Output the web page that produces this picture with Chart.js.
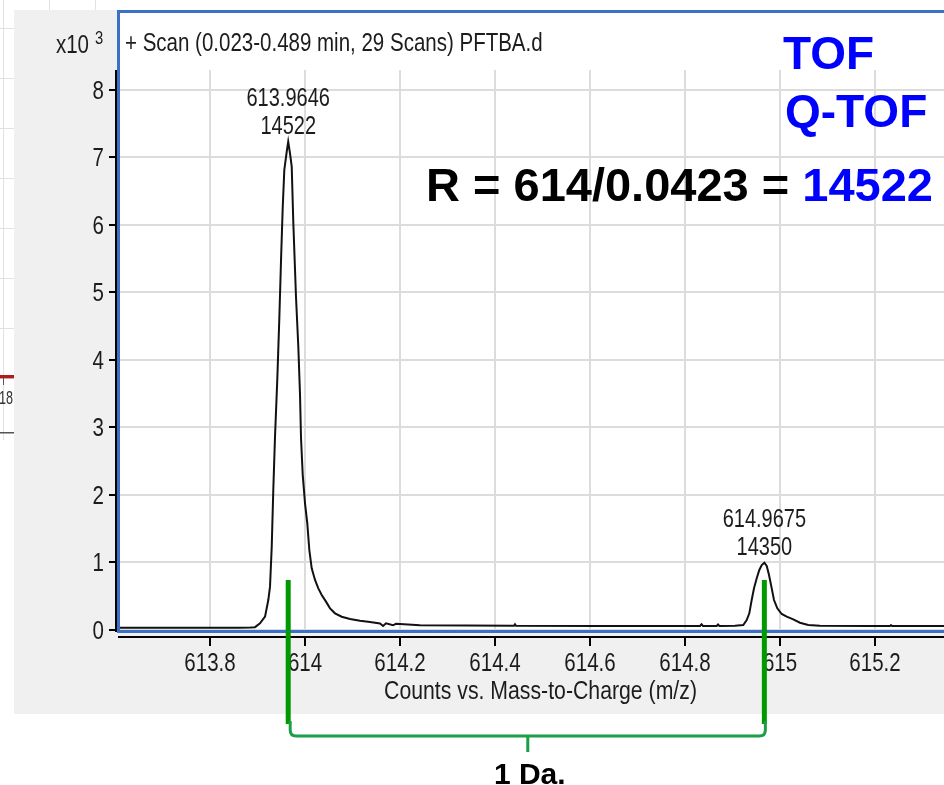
<!DOCTYPE html>
<html>
<head>
<meta charset="utf-8">
<title>PFTBA scan - TOF resolution</title>
<script src="https://cdn.jsdelivr.net/npm/chart.js@4.4.1/dist/chart.umd.min.js"></script>
<style>
  html, body { margin: 0; padding: 0; overflow: hidden; background: #fff; }
  canvas { display: block; }
</style>
</head>
<body>
<canvas id="spectrum" width="964" height="785"></canvas>
<script>
// profile trace (m/z, counts)
const mzValues = [
  613.604, 613.75, 613.86, 613.885, 613.8947, 613.9052, 613.9158, 613.9227, 613.9263, 613.9299,
  613.9332, 613.9368, 613.9417, 613.9459, 613.9495, 613.9530, 613.9564, 613.9615, 613.9646, 613.9684,
  613.9720, 613.9754, 613.9810, 613.9859, 613.9895, 613.9916, 613.9952, 614.0000, 614.0048, 614.0091,
  614.0141, 614.0211, 614.0280, 614.0352, 614.0442, 614.0527, 614.0632, 614.0773, 614.0948, 614.1158,
  614.1369, 614.1580, 614.1643, 614.1706, 614.1853, 614.1917, 614.2422, 614.4402, 614.4423, 614.4444,
  614.6213, 614.8319, 614.8351, 614.8382, 614.8671, 614.8699, 614.8730, 614.9056, 614.9231, 614.9303,
  614.9358, 614.9408, 614.9457, 614.9514, 614.9569, 614.9620, 614.9675, 614.9725, 614.9773, 614.9830,
  614.9878, 614.9948, 615.0040, 615.0146, 615.0284, 615.0425, 615.0600, 615.0847, 615.1900, 615.2322,
  615.2343, 615.2364, 615.3460, 615.388
];
const countValues = [
  32, 33, 35, 38, 42, 99, 197, 444, 642, 1234,
  2074, 2864, 3728, 4617, 5481, 6247, 6815, 7086, 7234, 7062,
  6864, 6025, 4938, 4197, 3481, 2840, 2296, 1877, 1580, 1185,
  914, 741, 617, 519, 420, 321, 247, 197, 163, 138,
  118, 96, 60, 100, 70, 92, 70, 62, 85, 62,
  60, 60, 85, 60, 60, 82, 60, 62, 74, 148,
  247, 444, 617, 766, 889, 963, 997, 948, 815, 617,
  444, 321, 237, 197, 158, 108, 74, 64, 60, 60,
  72, 60, 58, 58
];

const peakMz = [613.9646, 614.9675];
const peakRes = ['14522', '14350'];

const xTicks = [613.8, 614, 614.2, 614.4, 614.6, 614.8, 615, 615.2];
const yTicks = [0, 1000, 2000, 3000, 4000, 5000, 6000, 7000, 8000];

const X_MIN = 613.604;
const X_MAX = 615.388;
const Y_MAX = 8296;

const SANS = '"Liberation Sans", Arial, sans-serif';
const SMALL = '25px ' + SANS;   // drawn squeezed, like the instrument software's tall narrow text
const SQUEEZE = 0.82;
const INK = '#1c1c1c';
const PANE_BLUE = '#3a70c6';
const MARK_GREEN = '#009a00';
const BRACE_GREEN = '#1c9e48';

function apexOf(mz) {
  let best = 0;
  mzValues.forEach((m, i) => {
    if (Math.abs(m - mz) < 0.01 && countValues[i] > best) best = countValues[i];
  });
  return best;
}

function narrowText(ctx, text, x, y, align, sx) {
  ctx.save();
  ctx.translate(x, y);
  ctx.scale(sx || SQUEEZE, 1);
  ctx.textAlign = align;
  ctx.textBaseline = 'alphabetic';
  ctx.fillText(text, 0, 0);
  ctx.restore();
}

const backdrop = {
  id: 'backdrop',
  beforeDraw(chart) {
    const { ctx, chartArea: a } = chart;
    const w = chart.width;
    ctx.save();
    ctx.fillStyle = '#fff';
    ctx.fillRect(0, 0, w, chart.height);

    // bits of the neighbouring sheet on the left
    ctx.fillStyle = '#e2e2e2';
    for (let y = 28; y < 360; y += 50) ctx.fillRect(0, y, 14, 1);
    ctx.fillRect(3, 0, 1, 440);
    ctx.fillRect(49, 0, 1, 10);
    ctx.fillRect(95, 0, 1, 10);
    ctx.fillStyle = '#b01c1c';
    ctx.fillRect(0, 375, 14, 3);
    ctx.fillStyle = '#e39a9a';
    ctx.fillRect(0, 378, 14, 1);
    ctx.fillStyle = '#555';
    ctx.fillRect(3, 378, 1, 7);
    ctx.fillRect(0, 432, 14, 1.5);
    ctx.font = '18px ' + SANS;
    ctx.fillStyle = '#333';
    narrowText(ctx, '18', -1, 404, 'left', 0.7);

    // grey window and white pane
    ctx.fillStyle = '#f0f0f0';
    ctx.fillRect(14, 10, w - 14, 704);
    ctx.fillStyle = '#fff';
    ctx.fillRect(a.left, 10, w - a.left, a.bottom - 10);
    ctx.restore();
  },
  afterDraw(chart) {
    const { ctx, chartArea: a, scales: { x, y } } = chart;
    const w = chart.width;
    ctx.save();

    // pane border
    ctx.fillStyle = PANE_BLUE;
    ctx.fillRect(a.left, 10, w - a.left, 3);
    ctx.fillRect(a.left, 10, 3, a.bottom - 7);
    ctx.fillRect(a.left, a.bottom, w - a.left, 3);

    // axis lines, tick marks and tick labels, set off from the pane
    ctx.fillStyle = '#000';
    ctx.fillRect(a.left - 2, a.top, 2, a.bottom - a.top + 2);
    ctx.fillRect(a.left + 1, a.bottom + 6, w, 2);
    ctx.font = SMALL;
    y.ticks.forEach(t => {
      const py = Math.round(y.getPixelForValue(t.value));
      ctx.fillStyle = '#000';
      ctx.fillRect(a.left - 8, py - 1, 7, 2);
      ctx.fillStyle = INK;
      narrowText(ctx, String(t.value / 1000), a.left - 13, py + 9, 'right');
    });
    x.ticks.forEach(t => {
      const px = Math.round(x.getPixelForValue(t.value));
      ctx.fillStyle = '#000';
      ctx.fillRect(px - 1, a.bottom + 8, 2, 8);
      ctx.fillStyle = INK;
      narrowText(ctx, String(+t.value.toFixed(1)), px, a.bottom + 41, 'center');
    });
    narrowText(ctx, 'Counts vs. Mass-to-Charge (m/z)', (a.left + a.right) / 2, a.bottom + 69, 'center', 0.85);

    // exponent label
    narrowText(ctx, 'x10', 89, 53, 'right');
    ctx.font = '18px ' + SANS;
    narrowText(ctx, '3', 95, 44, 'left');

    // scan title
    ctx.font = SMALL;
    narrowText(ctx, '+ Scan (0.023-0.489 min, 29 Scans) PFTBA.d', 125, 51, 'left');

    // peak labels
    peakMz.forEach((mz, i) => {
      const px = x.getPixelForValue(mz);
      const py = y.getPixelForValue(apexOf(mz));
      narrowText(ctx, mz.toFixed(4), px, py - 36, 'center', 0.8);
      narrowText(ctx, peakRes[i], px, py - 8, 'center', 0.8);
    });

    // annotations
    ctx.textAlign = 'left';
    ctx.textBaseline = 'alphabetic';
    ctx.font = 'bold 46px ' + SANS;
    ctx.fillStyle = '#0000ff';
    ctx.fillText('TOF', 783, 69);
    ctx.fillText('Q-TOF', 785, 127);
    ctx.font = 'bold 47px ' + SANS;
    const lead = 'R = 614/0.0423 = ';
    ctx.fillStyle = '#000';
    ctx.fillText(lead, 426, 201);
    ctx.fillStyle = '#0000ff';
    ctx.fillText('14522', 426 + ctx.measureText(lead).width, 201);

    // green markers at the two peaks
    const xs = peakMz.map(mz => x.getPixelForValue(mz));
    const markTop = y.getPixelForValue(741);
    ctx.strokeStyle = MARK_GREEN;
    ctx.lineWidth = 5;
    ctx.lineCap = 'butt';
    xs.forEach(px => {
      ctx.beginPath();
      ctx.moveTo(px, markTop);
      ctx.lineTo(px, 724);
      ctx.stroke();
    });

    // bracket
    const l = xs[0] + 2, r = xs[1] + 1, mid = (l + r) / 2, by = 736;
    ctx.strokeStyle = BRACE_GREEN;
    ctx.lineWidth = 3;
    ctx.lineJoin = 'round';
    ctx.beginPath();
    ctx.moveTo(l, 721);
    ctx.lineTo(l, by - 6);
    ctx.quadraticCurveTo(l, by, l + 6, by);
    ctx.lineTo(r - 6, by);
    ctx.quadraticCurveTo(r, by, r, by - 6);
    ctx.lineTo(r, 721);
    ctx.stroke();
    ctx.beginPath();
    ctx.moveTo(mid, by);
    ctx.lineTo(mid, 752);
    ctx.stroke();

    ctx.fillStyle = '#000';
    ctx.font = 'bold 30px ' + SANS;
    ctx.textAlign = 'center';
    ctx.fillText('1 Da.', mid + 2, 784);

    ctx.restore();
  }
};

new Chart(document.getElementById('spectrum'), {
  type: 'line',
  data: {
    datasets: [{
      data: mzValues.map((m, i) => ({ x: m, y: countValues[i] })),
      borderColor: '#111',
      borderWidth: 2,
      pointRadius: 0,
      tension: 0,
      fill: false
    }]
  },
  options: {
    responsive: false,
    animation: false,
    devicePixelRatio: 1,
    layout: { padding: { top: 70, left: 0, right: 0, bottom: 0 } },
    plugins: { legend: { display: false }, tooltip: { enabled: false } },
    scales: {
      x: {
        type: 'linear',
        min: X_MIN,
        max: X_MAX,
        afterBuildTicks: s => { s.ticks = xTicks.map(v => ({ value: v })); },
        afterFit: s => { s.height = 155; },
        border: { display: false },
        grid: { color: '#dcdcdc', lineWidth: 2, drawTicks: false },
        ticks: { display: false }
      },
      y: {
        min: 0,
        max: Y_MAX,
        afterBuildTicks: s => { s.ticks = yTicks.map(v => ({ value: v })); },
        afterFit: s => { s.width = 117; },
        border: { display: false },
        grid: { color: '#dcdcdc', lineWidth: 2, drawTicks: false },
        ticks: { display: false }
      }
    }
  },
  plugins: [backdrop]
});
</script>
</body>
</html>
